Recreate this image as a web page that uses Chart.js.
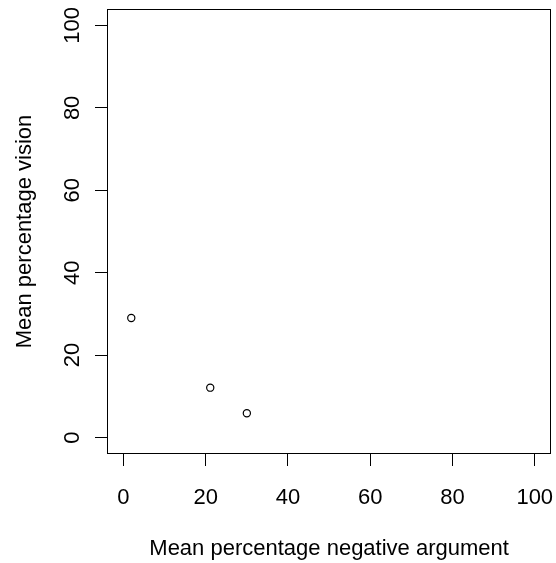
<!DOCTYPE html>
<html>
<head>
<meta charset="utf-8">
<script src="https://cdn.jsdelivr.net/npm/chart.js@4/dist/chart.umd.min.js"></script>
<style>
  html, body { margin: 0; padding: 0; background: #fff; }
  #wrap { width: 556px; height: 563px; }
</style>
</head>
<body>
<div id="wrap"><canvas id="plot" width="556" height="563"></canvas></div>
<script>
// mean percentages per group
const negArgument = [1.9, 21.1, 30.0];
const vision = [29.0, 12.1, 5.9];

const xTicks = [0, 20, 40, 60, 80, 100];
const yTicks = [0, 20, 40, 60, 80, 100];

const FONT = "'Liberation Sans', Arial, Helvetica, sans-serif";

// full frame around the plotting region
const frame = {
  id: "frame",
  afterDraw(chart) {
    const { ctx, chartArea: a } = chart;
    ctx.save();
    ctx.strokeStyle = "#000";
    ctx.lineWidth = 1;
    ctx.strokeRect(Math.round(a.left) + 0.5, Math.round(a.top) + 0.5,
      Math.round(a.right - a.left) - 1, Math.round(a.bottom - a.top) - 1);
    ctx.restore();
  }
};

const points = negArgument.map((x, i) => ({ x: x, y: vision[i] }));

new Chart(document.getElementById("plot").getContext("2d"), {
  type: "scatter",
  data: {
    datasets: [{
      data: points,
      pointStyle: "circle",
      pointRadius: 3.6,
      pointHoverRadius: 3.6,
      pointBorderWidth: 1.2,
      pointBorderColor: "#000",
      pointBackgroundColor: "rgba(0,0,0,0)"
    }]
  },
  options: {
    responsive: false,
    animation: false,
    events: [],
    layout: { padding: { top: 9, right: 4, left: 0, bottom: 0 } },
    plugins: { legend: { display: false }, tooltip: { enabled: false } },
    scales: {
      x: {
        type: "linear",
        min: -4,
        max: 104,
        afterBuildTicks: s => { s.ticks = xTicks.map(v => ({ value: v })); },
        afterFit: s => { s.height = 109; s.paddingLeft = 0; s.paddingRight = 0; },
        border: { display: false },
        grid: { drawOnChartArea: false, drawTicks: true, tickLength: 12, color: "#000", lineWidth: 1 },
        ticks: { color: "#000", font: { family: FONT, size: 22 }, padding: 19, maxRotation: 0, minRotation: 0 },
        title: {
          display: true,
          text: "Mean percentage negative argument",
          color: "#000",
          font: { family: FONT, size: 22, lineHeight: 1.2 },
          padding: { top: 0, bottom: 1 }
        }
      },
      y: {
        type: "linear",
        min: -4,
        max: 104,
        afterBuildTicks: s => { s.ticks = yTicks.map(v => ({ value: v })); },
        afterFit: s => { s.width = 107; s.paddingTop = 0; s.paddingBottom = 0; },
        border: { display: false },
        grid: { drawOnChartArea: false, drawTicks: true, tickLength: 12, color: "#000", lineWidth: 1 },
        ticks: { color: "#000", font: { family: FONT, size: 22 }, padding: 4, minRotation: 90, maxRotation: 90, crossAlign: "center" },
        title: {
          display: true,
          text: "Mean percentage vision",
          color: "#000",
          font: { family: FONT, size: 22, lineHeight: 1.2 },
          padding: { top: 12, bottom: 0 }
        }
      }
    }
  },
  plugins: [frame]
});
</script>
</body>
</html>
